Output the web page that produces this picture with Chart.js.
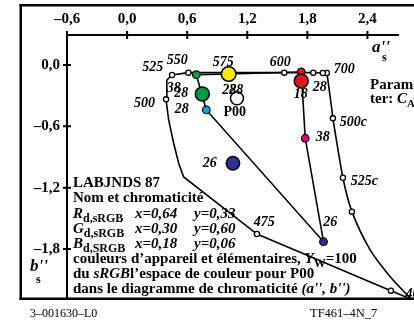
<!DOCTYPE html>
<html><head><meta charset="utf-8">
<script src="https://cdn.jsdelivr.net/npm/chart.js@4/dist/chart.umd.min.js"></script>
<style>html,body{margin:0;padding:0;background:#fff;overflow:hidden}</style>
</head><body>
<canvas id="c" width="414" height="325"></canvas>
<script>
// ---- data (a'' , b'') ----
const xTicks = [-0.6, 0, 0.6, 1.2, 1.8, 2.4];
const yTicks = [0, -0.6, -1.2, -1.8];

const locusA = [2.926, 2.634, 1.297, 0.565, 0.515, 0.465, 0.415, 0.389, 0.397, 0.449, 0.612, 1.569, 1.859, 1.955, 1.995];
const locusB = [-2.329, -2.208, -1.654, -1.096, -0.962, -0.766, -0.538, -0.336, -0.147, -0.098, -0.075, -0.075, -0.075, -0.078, -0.078];

const locusMarkA = [1.995, 1.955, 1.859, 1.569, 0.612, 0.449, 0.389, 1.297, 2.634];
const locusMarkB = [-0.078, -0.078, -0.075, -0.075, -0.075, -0.098, -0.336, -1.654, -2.208];

const cCurveA = [1.995, 2.045, 2.055, 2.155, 2.245, 2.427, 2.627, 2.846, 2.926];
const cCurveB = [-0.078, -0.440, -0.522, -1.103, -1.435, -1.810, -2.071, -2.299, -2.378];
const cMarkA = [2.055, 2.155, 2.245];
const cMarkB = [-0.522, -1.103, -1.435];

// device colours R, Y, G, C, B, M (closed)
const gamutA = [1.739, 1.014, 0.691, 0.791, 1.961, 1.779, 1.739];
const gamutB = [-0.068, -0.088, -0.095, -0.440, -1.729, -0.717, -0.068];

const smallDotA = [0.691, 0.791, 1.961, 1.779, 1.739];
const smallDotB = [-0.095, -0.440, -1.729, -0.717, -0.068];
const bigDotA = [1.014, 0.751, 1.739, 1.057, 1.097];
const bigDotB = [-0.088, -0.284, -0.157, -0.962, -0.326];

const labelText = ['525','550','575','600','700','500','38','28','28','28','28','18','28','P00','500c','38','26','525c','475','26','40'];
const labelA = [0.257, 0.501, 0.961, 1.530, 2.168, 0.173, 0.467, 0.542, 0.547, 1.021, 1.090, 1.734, 1.923, 1.075, 2.258, 1.953, 0.826, 2.368, 1.370, 2.028, 2.850];
const labelB = [-0.024, 0.049, 0.029, 0.029, -0.039, -0.372, -0.225, -0.274, -0.431, -0.245, -0.245, -0.284, -0.220, -0.460, -0.558, -0.709, -0.959, -1.135, -1.541, -1.536, -2.240];

// ---- styles ----
const smallDotColors = ['#009a44', '#16a3dc', '#2b2f8f', '#e5007e', '#e3141c'];
const bigDotColors = ['#fbe813', '#009a44', '#e3141c', '#2e3192', '#ffffff'];
const labelUpright = [false,false,false,false,false,false,false,false,false,false,false,false,false,true,false,false,false,false,false,false,false];

const SERIF = '"Liberation Serif", "Times New Roman", serif';
const pts = (A, B) => A.map((a, i) => ({x: a, y: B[i]}));
const fmt = v => (v < 0 ? '\u2013' : '') + Math.abs(v).toFixed(1).replace('.', ',');
const CLIP = {left: 0, top: 0, right: false, bottom: 0};

const framePlugin = {
  id: 'frame',
  beforeDraw(chart) {
    const ctx = chart.ctx;
    ctx.save();
    ctx.fillStyle = '#fff';
    ctx.fillRect(0, 0, chart.width, chart.height);
    ctx.restore();
  },
  afterDraw(chart) {
    const ctx = chart.ctx;
    const {left, top, bottom} = chart.chartArea;
    ctx.save();
    ctx.fillStyle = '#000';
    ctx.fillRect(19.5, 4, 2.5, bottom - 4 + 2);
    ctx.fillRect(19.5, 4, 420, 2.5);
    ctx.fillRect(19.5, bottom - 0.5, 420, 2.5);
    // tick marks crossing the axes
    const xs = chart.scales.x, ys = chart.scales.y;
    ctx.strokeStyle = '#000';
    ctx.lineWidth = 2;
    ctx.beginPath();
    xs.ticks.forEach(t => { const p = xs.getPixelForValue(t.value); ctx.moveTo(p, top - 4); ctx.lineTo(p, top + 4); });
    ys.ticks.forEach(t => { const p = ys.getPixelForValue(t.value); ctx.moveTo(left - 4, p); ctx.lineTo(left + 4, p); });
    ctx.stroke();

    // axis titles
    ctx.fillStyle = '#000';
    ctx.textBaseline = 'alphabetic';
    ctx.textAlign = 'left';
    ctx.font = 'italic bold 17px ' + SERIF;
    ctx.fillText("a''", 372, 52);
    ctx.font = 'bold 12px ' + SERIF;
    ctx.fillText('s', 382, 61);
    ctx.font = 'italic bold 17px ' + SERIF;
    ctx.fillText("b''", 30, 271);
    ctx.font = 'bold 12px ' + SERIF;
    ctx.fillText('s', 36, 283);

    // parameter note (cut at right)
    ctx.font = 'bold 15px ' + SERIF;
    ctx.fillText('Parame', 370, 89);
    ctx.fillText('ter: ', 370, 103);
    let w = ctx.measureText('ter: ').width;
    ctx.font = 'italic bold 15px ' + SERIF;
    ctx.fillText('C', 370 + w, 103);
    w += ctx.measureText('C').width;
    ctx.font = 'bold 11px ' + SERIF;
    ctx.fillText('A', 370 + w, 107);

    // text block
    const seg = (x, y, parts) => {
      parts.forEach(p => {
        let f = 'bold 15px ', dy = 0;
        if (p[1] === 'i') f = 'italic bold 15px ';
        if (p[1] === 's') { f = 'bold 12px '; dy = 4; }
        if (p[2] !== undefined) x = p[2];
        ctx.font = f + SERIF;
        ctx.fillText(p[0], x, y + dy);
        x += ctx.measureText(p[0]).width;
      });
    };
    const X0 = 73;
    seg(X0, 187, [['LABJNDS 87', 'b']]);
    seg(X0, 202, [['Nom et chromaticit\u00e9', 'b']]);
    seg(X0, 218, [['R', 'i'], ['d,sRGB', 's'], ['x=0,64', 'i', 135], ['y=0,33', 'i', 194]]);
    seg(X0, 233, [['G', 'i'], ['d,sRGB', 's'], ['x=0,30', 'i', 135], ['y=0,60', 'i', 194]]);
    seg(X0, 248, [['B', 'i'], ['d,SRGB', 's'], ['x=0,18', 'i', 135], ['y=0,06', 'i', 194]]);
    seg(X0, 263, [['couleurs d\u2019appareil et \u00e9l\u00e9mentaires, ', 'b'], ['Y', 'i'], ['W', 's'], ['=100', 'b']]);
    seg(X0, 278, [['du ', 'b'], ['sRGB', 'i'], ['l\u2019espace de couleur pour P00', 'b']]);
    seg(X0, 293, [['dans le diagramme de chromaticit\u00e9 ', 'b'], ["(a'', b'')", 'i']]);

    // footer
    ctx.font = '12px ' + SERIF;
    ctx.fillText('3\u2013001630\u2013L0', 30, 317);
    ctx.font = '12.5px ' + SERIF;
    ctx.fillText('TF461\u20134N_7', 310, 317);
    ctx.restore();
  }
};

const labelPlugin = {
  id: 'labels',
  afterDatasetsDraw(chart) {
    const ctx = chart.ctx, xs = chart.scales.x, ys = chart.scales.y;
    ctx.save();
    ctx.fillStyle = '#000';
    ctx.textAlign = 'center';
    ctx.textBaseline = 'middle';
    labelText.forEach((t, i) => {
      ctx.font = (labelUpright[i] ? 'bold 14px ' : 'italic bold 14px ') + SERIF;
      ctx.fillText(t, xs.getPixelForValue(labelA[i]), ys.getPixelForValue(labelB[i]));
    });
    ctx.restore();
  }
};

new Chart(document.getElementById('c'), {
  type: 'scatter',
  data: {
    datasets: [
      {data: pts(bigDotA, bigDotB), pointRadius: [7.3, 7, 7, 6.7, 6.5], pointBackgroundColor: bigDotColors,
       pointBorderColor: '#000', pointBorderWidth: 1.5, showLine: false, order: 0, clip: CLIP},
      {data: pts(smallDotA, smallDotB), pointRadius: 3.8, pointBackgroundColor: smallDotColors,
       pointBorderColor: '#000', pointBorderWidth: 1.2, showLine: false, order: 1, clip: CLIP},
      {data: pts(locusMarkA, locusMarkB), pointRadius: 2.6, pointBackgroundColor: '#fff',
       pointBorderColor: '#000', pointBorderWidth: 1.3, showLine: false, order: 2, clip: CLIP},
      {data: pts(cMarkA, cMarkB), pointRadius: 2.6, pointBackgroundColor: '#fff',
       pointBorderColor: '#000', pointBorderWidth: 1.3, showLine: false, order: 2, clip: CLIP},
      {data: pts(gamutA, gamutB), showLine: true, borderColor: '#000', borderWidth: 1.6, pointRadius: 0, order: 3, clip: CLIP},
      {data: pts(locusA, locusB), showLine: true, borderColor: '#000', borderWidth: 1.6, pointRadius: 0, order: 4, clip: CLIP},
      {data: pts(cCurveA, cCurveB), showLine: true, borderColor: '#000', borderWidth: 1.6, pointRadius: 0, tension: 0.25, order: 4, clip: CLIP}
    ]
  },
  options: {
    responsive: false,
    devicePixelRatio: 1,
    animation: false,
    layout: {padding: {left: 0, top: 0, right: 16, bottom: 27}},
    plugins: {legend: {display: false}, tooltip: {enabled: false}},
    scales: {
      x: {
        type: 'linear', position: 'top', min: -0.6, max: 2.705,
        afterBuildTicks: s => { s.ticks = xTicks.map(v => ({value: v})); },
        afterFit: s => { s.height = 35; },
        ticks: {callback: v => fmt(v), color: '#000', font: {family: SERIF, size: 15, weight: 'bold'}, padding: 7, maxRotation: 0, autoSkip: false},
        grid: {display: false, drawTicks: false},
        border: {display: true, color: '#000', width: 2}
      },
      y: {
        type: 'linear', position: 'left', min: -2.280, max: 0.2935,
        afterBuildTicks: s => { s.ticks = yTicks.map(v => ({value: v})); },
        afterFit: s => { s.width = 67; },
        ticks: {callback: v => fmt(v), color: '#000', font: {family: SERIF, size: 15, weight: 'bold'}, padding: 7, autoSkip: false},
        grid: {display: false, drawTicks: false},
        border: {display: true, color: '#000', width: 2}
      }
    }
  },
  plugins: [framePlugin, labelPlugin]
});
</script>
</body></html>
